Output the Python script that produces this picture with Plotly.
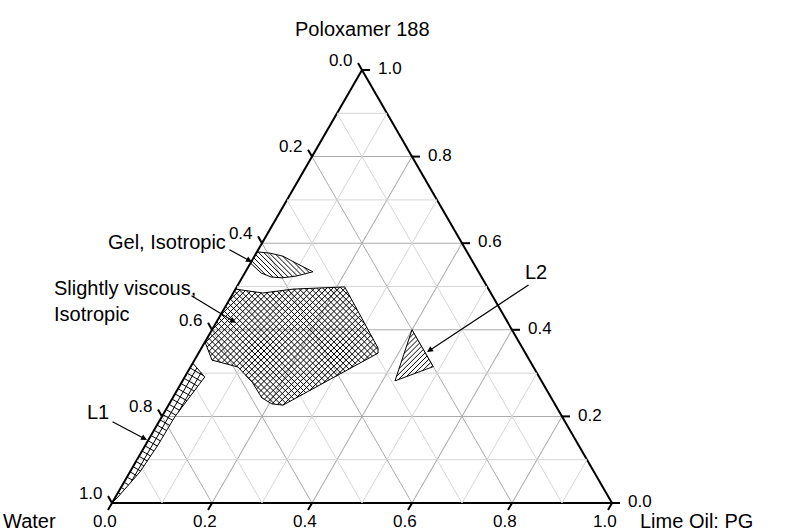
import numpy as np
import plotly.graph_objects as go

# ---------------- data (ternary fractions: a = Poloxamer 188, b = Water, c = Lime Oil: PG)
gel_a = [0.580, 0.577, 0.570, 0.554, 0.534, 0.524, 0.520, 0.522, 0.531, 0.554]
gel_b = [0.420, 0.395, 0.373, 0.355, 0.331, 0.370, 0.400, 0.421, 0.436, 0.446]
gel_c = [0.000, 0.028, 0.057, 0.091, 0.135, 0.106, 0.080, 0.057, 0.033, 0.000]

visc_a = [0.494, 0.485, 0.494, 0.499, 0.358, 0.346, 0.226, 0.229, 0.243, 0.279, 0.314, 0.330, 0.372]
visc_b = [0.506, 0.456, 0.391, 0.285, 0.289, 0.295, 0.545, 0.566, 0.579, 0.580, 0.591, 0.635, 0.628]
visc_c = [0.000, 0.059, 0.115, 0.216, 0.353, 0.359, 0.229, 0.205, 0.178, 0.141, 0.095, 0.035, 0.000]

l2_a = [0.400, 0.315, 0.282]
l2_b = [0.200, 0.200, 0.293]
l2_c = [0.400, 0.485, 0.425]

l1_a = [0.323, 0.291, 0.245, 0.199, 0.134, 0.072, 0.014, 0.000]
l1_b = [0.677, 0.669, 0.722, 0.775, 0.841, 0.908, 0.981, 1.000]
l1_c = [0.000, 0.040, 0.033, 0.026, 0.025, 0.020, 0.005, 0.000]

major_ticks = [0.0, 0.2, 0.4, 0.6, 0.8, 1.0]
minor_grid = [0.1, 0.3, 0.5, 0.7, 0.9]
tick_text = ["%.1f" % v for v in major_ticks]

FONT = "Liberation Sans, Arial, sans-serif"
SQ = np.sqrt(3) / 2
NB = "\u00a0"


def to_xy(a, b, c):
    s = a + b + c
    a, c = a / s, c / s
    return np.array([c + a / 2, a * SQ])


def to_abc(p):
    a = p[1] / SQ
    c = p[0] - a / 2
    b = 1 - a - c
    return max(a, 0.0), max(b, 0.0), max(c, 0.0)


def hatch(A, B, C, angle_deg, spacing):
    pts = [to_xy(a, b, c) for a, b, c in zip(A, B, C)]
    th = np.radians(angle_deg)
    d = np.array([np.cos(th), np.sin(th)])
    n = np.array([-np.sin(th), np.cos(th)])
    proj = [p @ n for p in pts]
    out_a, out_b, out_c = [], [], []
    k0 = int(np.ceil(min(proj) / spacing))
    k1 = int(np.floor(max(proj) / spacing))
    m = len(pts)
    for k in range(k0, k1 + 1):
        off = k * spacing
        ts = []
        for i in range(m):
            p, q = pts[i], pts[(i + 1) % m]
            sp, sq = p @ n - off, q @ n - off
            if (sp < 0) != (sq < 0):
                t = sp / (sp - sq)
                X = p + t * (q - p)
                ts.append(X @ d)
        ts.sort()
        for j in range(0, len(ts) - 1, 2):
            for t in (ts[j], ts[j + 1]):
                a, b, c = to_abc(off * n + t * d)
                out_a.append(a); out_b.append(b); out_c.append(c)
            out_a.append(None); out_b.append(None); out_c.append(None)
    return out_a, out_b, out_c


fig = go.Figure()

# minor grid lines
ga, gb, gc = [], [], []
for v in minor_grid:
    for seg in [((v, 1 - v, 0), (v, 0, 1 - v)),
                ((1 - v, v, 0), (0, v, 1 - v)),
                ((1 - v, 0, v), (0, 1 - v, v))]:
        for p in seg:
            ga.append(p[0]); gb.append(p[1]); gc.append(p[2])
        ga.append(None); gb.append(None); gc.append(None)
fig.add_trace(go.Scatterternary(a=ga, b=gb, c=gc, mode="lines",
                                line=dict(color="#d6d6d6", width=1),
                                hoverinfo="skip", showlegend=False))

regions = [
    (gel_a, gel_b, gel_c, [(-45, 0.0072)]),
    (visc_a, visc_b, visc_c, [(45, 0.0086), (-45, 0.0086)]),
    (l2_a, l2_b, l2_c, [(45, 0.0072)]),
    (l1_a, l1_b, l1_c, [(60, 0.012), (-30, 0.012)]),
]
for A, B, C, pats in regions:
    for ang, sp in pats:
        ha, hb, hc = hatch(A, B, C, ang, sp)
        fig.add_trace(go.Scatterternary(a=ha, b=hb, c=hc, mode="lines",
                                        line=dict(color="black", width=1),
                                        hoverinfo="skip", showlegend=False))
    fig.add_trace(go.Scatterternary(a=A + [A[0]], b=B + [B[0]], c=C + [C[0]],
                                    mode="lines", line=dict(color="black", width=1),
                                    hoverinfo="skip", showlegend=False))

# tick marks: short strokes continuing the grid lines outside each edge
TICK_LEN = 8
tick_mk = dict(symbol="line-ns", size=TICK_LEN / 1.4, standoff=TICK_LEN / 2,
               color="black", line=dict(color="black", width=2))
edge_points = {
    150: ([1 - v for v in major_ticks], major_ticks, [0] * 6),    # left edge, up-left
    -90: (major_ticks, [0] * 6, [1 - v for v in major_ticks]),    # right edge, rightwards
    30: ([0] * 6, [1 - v for v in major_ticks], major_ticks),     # bottom edge, down-left
}
for ang, (A, B, C) in edge_points.items():
    fig.add_trace(go.Scatterternary(a=A, b=B, c=C, mode="markers",
                                    marker=dict(angle=ang, **tick_mk),
                                    cliponaxis=False, hoverinfo="skip",
                                    showlegend=False))

# tick labels (Water on left edge, Poloxamer on right edge, Lime Oil on bottom)
tf = dict(family=FONT, size=17, color="black")
inv = dict(color="rgba(0,0,0,0)")
fig.add_trace(go.Scatterternary(
    a=[1 - v for v in major_ticks], b=major_ticks, c=[0] * 6,
    mode="text", text=[t + NB + NB for t in tick_text], textposition="top left",
    textfont=tf, cliponaxis=False, hoverinfo="skip", showlegend=False))
fig.add_trace(go.Scatterternary(
    a=major_ticks, b=[0] * 6, c=[1 - v for v in major_ticks],
    mode="markers+text", text=tick_text, textposition="middle right",
    marker=dict(size=24, **inv), textfont=tf, cliponaxis=False,
    hoverinfo="skip", showlegend=False))
fig.add_trace(go.Scatterternary(
    a=[0] * 6, b=[1 - v for v in major_ticks], c=major_ticks,
    mode="markers+text", text=[t + NB * 3 for t in tick_text], textposition="bottom center",
    marker=dict(size=16, **inv), textfont=tf, cliponaxis=False,
    hoverinfo="skip", showlegend=False))

axis_style = dict(dtick=0.2, tick0=0, showticklabels=False, ticks="",
                  linecolor="black", linewidth=2, showline=True,
                  gridcolor="#ababab", gridwidth=1, layer="below traces",
                  title=dict(text=""))

fig.update_layout(
    width=788, height=531,
    margin=dict(l=112, r=176, t=70, b=28),
    paper_bgcolor="white",
    showlegend=False,
    font=dict(family=FONT, size=16, color="black"),
    ternary=dict(sum=1, bgcolor="white",
                 aaxis=axis_style, baxis=axis_style, caxis=axis_style),
)

ann = [
    dict(text="Poloxamer 188", x=0.5, y=1.0945, xanchor="center"),
    dict(text="Water", x=-0.166, y=-0.041, xanchor="center"),
    dict(text="Lime Oil: PG", x=1.168, y=-0.041, xanchor="center"),
    dict(text="Gel, Isotropic", x=0.232, y=0.603, xanchor="right"),
    dict(text="L2", x=0.848, y=0.5335, xanchor="center"),
    dict(text="L1", x=-0.028, y=0.2102, xanchor="center"),
]
for a_ in ann:
    fig.add_annotation(xref="paper", yref="paper", showarrow=False,
                       yanchor="middle",
                       font=dict(family=FONT, size=20, color="black"), **a_)
fig.add_annotation(xref="paper", yref="paper", showarrow=False,
                   text="Slightly viscous,<br>Isotropic", align="left",
                   x=-0.12, y=0.4665, xanchor="left", yanchor="middle",
                   font=dict(family=FONT, size=20, color="black"))

arrows = [
    (0.28, 0.5566, -24, -13),
    (0.248, 0.416, -46, -28),
    (0.63, 0.3487, 103, -68),
    (0.07, 0.1455, -36, -19),
]
for x, y, ax, ay in arrows:
    fig.add_annotation(xref="paper", yref="paper", x=x, y=y, ax=ax, ay=ay,
                       text="", showarrow=True, arrowhead=2, arrowsize=1,
                       arrowwidth=1.2, arrowcolor="black")

fig.write_html("out.html")
